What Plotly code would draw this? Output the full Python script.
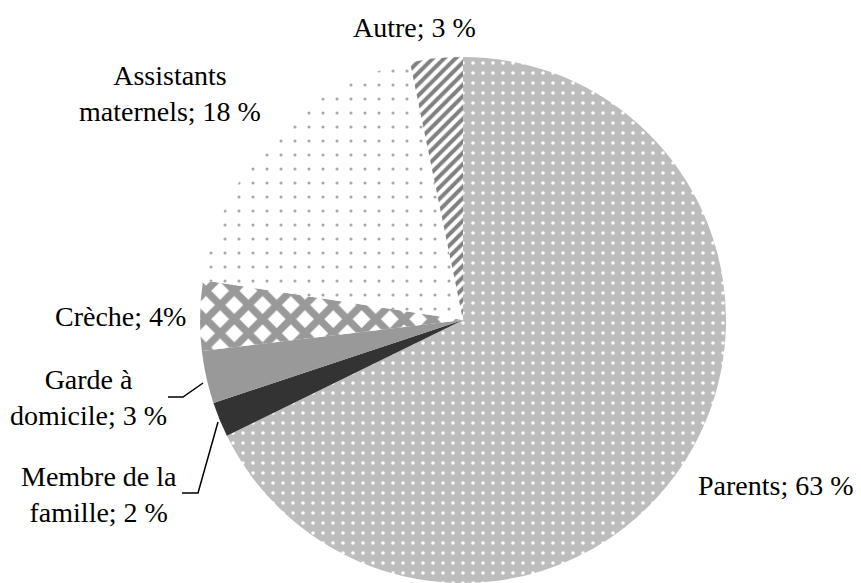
import plotly.graph_objects as go

# slices, clockwise from 12 o'clock
categories = ["Parents", "Membre de la famille", "Garde à domicile", "Crèche",
              "Assistants maternels", "Autre"]
values = [63, 2, 3, 4, 18, 3]
label_texts = ["Parents; 63 %", "Membre de la<br>famille; 2 %", "Garde à<br>domicile; 3 %",
               "Crèche; 4%", "Assistants<br>maternels; 18 %", "Autre; 3 %"]

W, H = 861, 583
OFF = 8  # page body margin of the html output
SERIF = "Times New Roman, Liberation Serif, DejaVu Serif, serif"


def px(x, y):
    # screen pixel position -> paper coords
    return (x - OFF) / W, 1 - (y - OFF) / H


fig = go.Figure()
fig.add_trace(go.Pie(
    labels=categories,
    values=values,
    sort=False,
    direction="clockwise",
    rotation=0,
    textinfo="none",
    hoverinfo="label+percent",
    showlegend=False,
    domain=dict(x=[(200 - OFF) / W, (726 - OFF) / W],
                y=[1 - (583 - OFF) / H, 1 - (57 - OFF) / H]),
    marker=dict(
        colors=["#bdbdbd", "#333333", "#999999", "#ffffff", "#ffffff", "#ffffff"],
        line=dict(width=0),
        pattern=dict(
            shape=[".", "", "", "x", ".", "/"],
            fgcolor=["#ffffff", "#333333", "#999999", "#999999", "#a8a8a8", "#808080"],
            bgcolor=["#bdbdbd", "#333333", "#999999", "#ffffff", "#ffffff", "#ffffff"],
            size=[10, 8, 8, 20, 14, 8],
            solidity=[0.1, 0.5, 0.5, 0.6, 0.04, 0.5],
        ),
    ),
))

# label placement (screen pixel centres) and anchor
label_pos = [(776, 485, "center"), (99, 494, "center"), (88, 397, "center"),
             (188, 316, "right"), (170, 93, "center"), (414, 27, "center")]
for txt, (lx, ly, anchor) in zip(label_texts, label_pos):
    ax, ay = px(lx, ly)
    fig.add_annotation(x=ax, y=ay, xref="paper", yref="paper", text=txt,
                       showarrow=False, xanchor=anchor, yanchor="middle",
                       align="center",
                       font=dict(family=SERIF, size=28, color="black"))

# leader lines
leaders = [
    [(168, 397), (183, 397), (203, 383)],
    [(182, 493), (198, 493), (218, 422)],
]
for pts in leaders:
    path = ""
    for i, (x, y) in enumerate(pts):
        X, Y = px(x, y)
        path += ("M" if i == 0 else " L") + f" {X} {Y}"
    fig.add_shape(type="path", path=path, xref="paper", yref="paper",
                  line=dict(color="black", width=1.5))

fig.update_layout(
    width=W, height=H,
    margin=dict(l=0, r=0, t=0, b=0),
    paper_bgcolor="white",
    plot_bgcolor="white",
    font=dict(family=SERIF),
)

fig.write_html("out.html")
